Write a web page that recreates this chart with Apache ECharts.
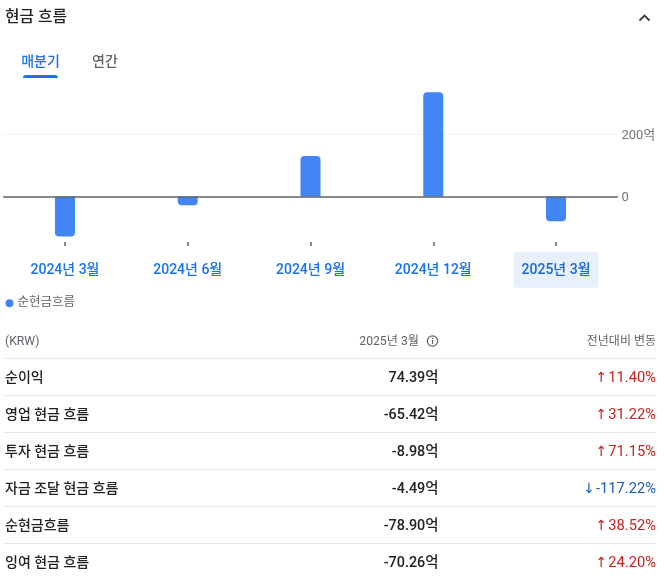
<!DOCTYPE html>
<html><head><meta charset="utf-8">
<style>html,body{margin:0;padding:0;background:#fff}#c{width:666px;height:582px}</style>
<script src="https://cdn.jsdelivr.net/npm/echarts@6/dist/echarts.min.js"></script>
</head><body><div id="c"></div>
<script>
const categories = ['2024년 3월','2024년 6월','2024년 9월','2024년 12월','2025년 3월'];
const netCash = [-128, -28, 130, 334, -78.9];
const seriesName = '순현금흐름';
const rowLabels = ['순이익','영업 현금 흐름','투자 현금 흐름','자금 조달 현금 흐름','순현금흐름','잉여 현금 흐름'];
const rowValues = ['74.39억','-65.42억','-8.98억','-4.49억','-78.90억','-70.26억'];
const rowChanges = ['11.40%','31.22%','71.15%','-117.22%','38.52%','24.20%'];
const rowUp = [true,true,true,false,true,true];

const FF = 'Roboto,"Noto Sans CJK KR",sans-serif';
const font = (s,w) => `${w||400} ${s}px ${FF}`;
const g = [];
const txt = (x,y,text,fill,f,align) => g.push({type:'text',silent:true,style:{x,y,text,fill,font:f,align:align||'left',verticalAlign:'middle'}});
const line = (x1,y1,x2,y2,stroke,lw) => g.push({type:'line',silent:true,shape:{x1,y1,x2,y2},style:{stroke,lineWidth:lw||1}});

txt(5,18,'현금 흐름','#202124',font(15.8,500));
g.push({type:'polyline',silent:true,shape:{points:[[639.5,20.5],[644.5,15.5],[649.5,20.5]]},style:{stroke:'#3c4043',lineWidth:1.8,fill:'none'}});
txt(40.5,62,'매분기','#1a73e8',font(14,500),'center');
txt(105,62,'연간','#5f6368',font(14,500),'center');
g.push({type:'rect',silent:true,shape:{x:23,y:75,width:35,height:3,r:[3,3,0,0]},style:{fill:'#1a73e8'}});

txt(5,341.5,'(KRW)','#5f6368',font(12.2));
txt(419,341.5,'2025년 3월','#5f6368',font(12.2),'right');
g.push({type:'circle',silent:true,shape:{cx:432.5,cy:341,r:5.2},style:{stroke:'#5f6368',lineWidth:1.2,fill:'none'}});
line(432.5,340,432.5,344,'#5f6368',1.2);
line(432.5,337.8,432.5,339,'#5f6368',1.2);
txt(656,341.5,'전년대비 변동','#5f6368',font(12),'right');

rowLabels.forEach((name,i)=>{
  const ly = 358.5 + 37*i, cy = ly + 19.6;
  line(4,ly,656,ly,'#e8eaed',1);
  txt(5,cy,name,'#202124',font(14,500));
  txt(438.5,cy,rowValues[i],'#202124',font(14.4,500),'right');
  const c = rowUp[i] ? '#c5221f' : '#185abc';
  g.push({type:'text',silent:true,style:{x:656,y:cy,align:'right',verticalAlign:'middle',
    text:`{a|${rowUp[i]?'↑':'↓'}}{b|${rowChanges[i]}}`,
    rich:{a:{fill:c,font:'400 14px "DejaVu Sans"',padding:[0,1,0,0]},b:{fill:c,font:font(14.7,400)}}}});
});

const chart = echarts.init(document.getElementById('c'),null,{renderer:'canvas'});
chart.setOption({
  animation:false,
  textStyle:{fontFamily:FF},
  grid:{left:3.6,width:613.8,top:71.5,height:187.5,containLabel:false},
  legend:{left:0.5,top:292,icon:'circle',itemWidth:8,itemHeight:8,itemGap:6,
    textStyle:{color:'#5f6368',fontSize:12.5,fontFamily:FF,padding:[0,0,0,-1]},data:[seriesName]},
  xAxis:[
    {type:'category',data:categories,position:'bottom',z:5,
     axisLine:{onZero:true,lineStyle:{color:'#5f6368',width:1.5}},
     axisTick:{show:false},axisLabel:{show:false},splitLine:{show:false}},
    {type:'category',data:categories,position:'bottom',offset:-13,
     axisLine:{show:false,onZero:false},
     axisTick:{show:true,inside:true,alignWithLabel:true,length:4,lineStyle:{color:'#5f6368',width:1.5}},
     axisLabel:{margin:6,interval:0,
       formatter:v=>v===categories[categories.length-1]?`{sel|${v}}`:`{nor|${v}}`,
       rich:{
         nor:{color:'#1a73e8',fontSize:14,fontWeight:500,fontFamily:FF,padding:[12,8,10,8]},
         sel:{color:'#1967d2',fontSize:14,fontWeight:500,fontFamily:FF,padding:[12,8,10,8],backgroundColor:'#e8f0fe',borderRadius:4}
       }}}
  ],
  yAxis:{type:'value',position:'right',min:-200,max:400,interval:200,
    axisLine:{show:false},axisTick:{show:false},
    axisLabel:{margin:4,color:'#70757a',fontSize:13,fontFamily:FF,verticalAlign:'top',padding:[-5,0,0,0],
      formatter:v=>v===0?'0':(v===200?'200억':'')},
    splitLine:{show:true,lineStyle:{color:['rgba(0,0,0,0)','rgba(0,0,0,0)','#f1f3f4','rgba(0,0,0,0)'],width:1}}},
  series:[{name:seriesName,type:'bar',xAxisIndex:0,barWidth:20,
    data:netCash.map(v=>({value:v,itemStyle:{borderRadius:v>=0?[4,4,0,0]:[0,0,4,4]}})),
    itemStyle:{color:'#4285f4'}}],
  graphic:g
});
</script></body></html>
